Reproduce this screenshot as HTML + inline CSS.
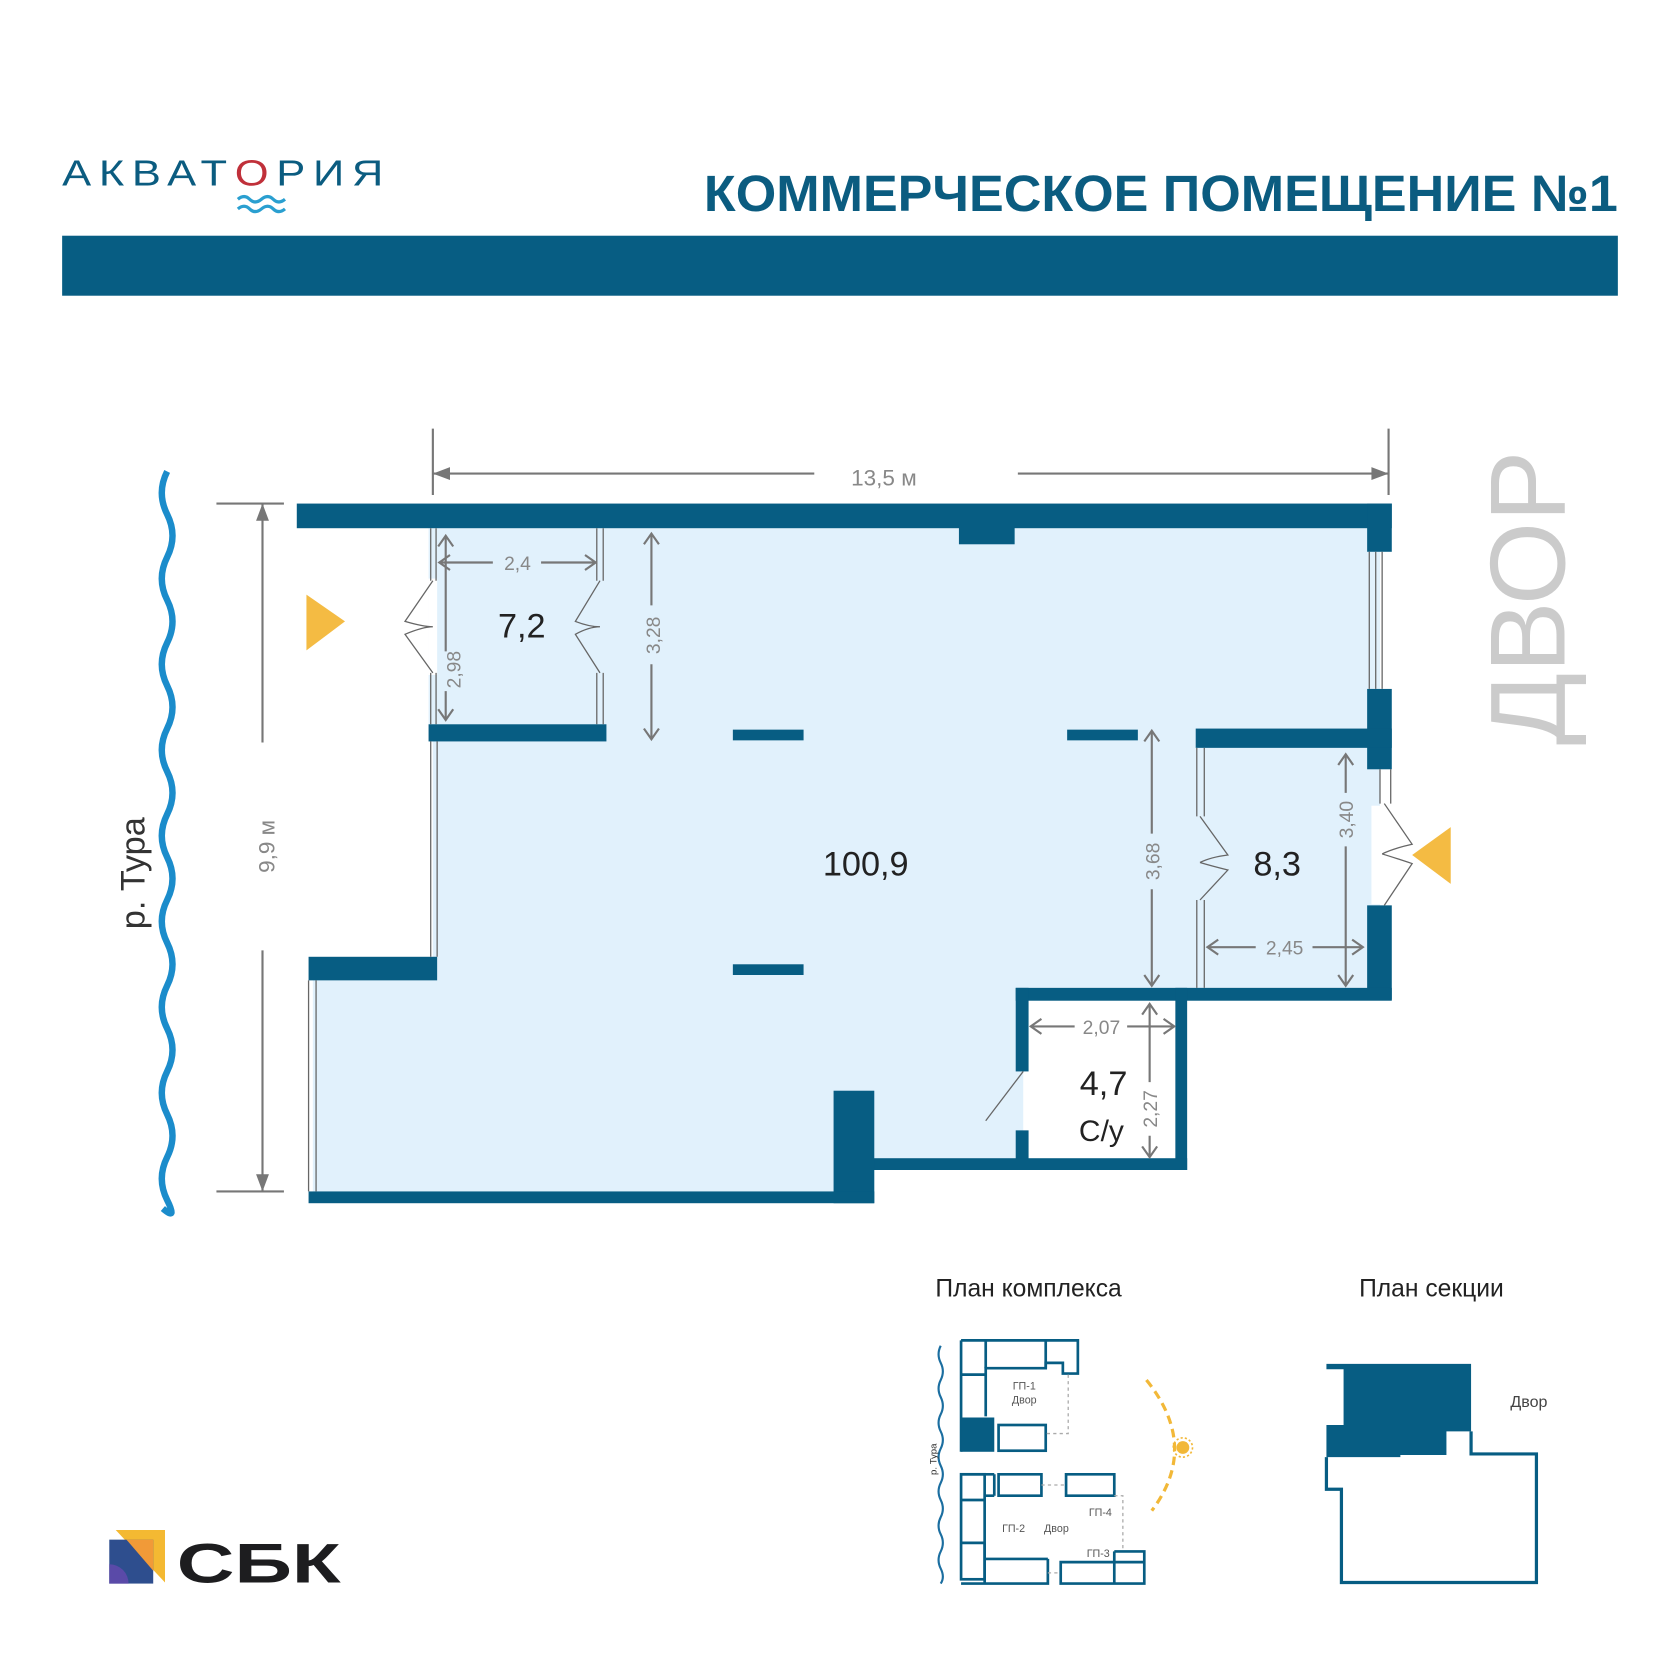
<!DOCTYPE html>
<html><head><meta charset="utf-8"><style>
html,body{margin:0;padding:0;background:#fff;}
svg{display:block;}
text{font-family:"Liberation Sans","DejaVu Sans",sans-serif;}
</style></head><body>
<svg width="1680" height="1680" viewBox="0 0 1568 1568" xmlns="http://www.w3.org/2000/svg">
<rect width="1568" height="1568" fill="#fff"/>
<!-- header -->
<text x="58" y="173" font-size="34" fill="#0b5c80" textLength="307" lengthAdjust="spacingAndGlyphs" letter-spacing="6">АКВАТ<tspan fill="#c0303a">О</tspan>РИЯ</text>
<path d="M222 186 q6 -5 11 0 t11 0 t11 0 t11 0 M222 195 q6 -5 11 0 t11 0 t11 0 t11 0" fill="none" stroke="#2a9fd0" stroke-width="3"/>
<text x="657" y="197" font-size="48" font-weight="bold" fill="#0b5c80" textLength="853" lengthAdjust="spacingAndGlyphs">КОММЕРЧЕСКОЕ ПОМЕЩЕНИЕ  №1</text>
<rect x="58" y="220" width="1452" height="56" fill="#075d83"/>

<!-- river -->
<path d="M156 440 q-10 20 0 40 t0 40 t0 40 t0 40 t0 40 t0 40 t0 40 t0 40 t0 40 t0 40 t0 40 t0 40 t0 40 t0 40 t0 40 t0 40 t0 40 t-4 8" fill="none" stroke="#1b8ccb" stroke-width="6"/>
<text transform="translate(135,815) rotate(-90)" font-size="32" fill="#333" text-anchor="middle">р. Тура</text>

<!-- floor fill -->
<polygon points="400,493 1288,493 1288,922 955,922 955,1088 816,1088 816,1117 292,1117 292,905 404,905 404,690 400,690" fill="#e1f1fc"/>
<rect x="400" y="540" width="8" height="90" fill="#fff"/>
<rect x="1280" y="752" width="12" height="92" fill="#fff"/>

<g fill="#075d83">
<rect x="277" y="470" width="1022" height="23"/>
<rect x="895" y="490" width="52" height="18"/>
<rect x="1276" y="470" width="23" height="45"/>
<rect x="1276" y="643" width="23" height="75"/>
<rect x="1116" y="680" width="183" height="18"/>
<rect x="1276" y="845" width="23" height="88"/>
<rect x="948" y="922" width="351" height="12"/>
<rect x="948" y="922" width="12" height="78"/>
<rect x="948" y="1055" width="12" height="37"/>
<rect x="1097" y="922" width="11" height="170"/>
<rect x="800" y="1081" width="308" height="11"/>
<rect x="778" y="1018" width="38" height="105"/>
<rect x="288" y="1112" width="528" height="11"/>
<rect x="288" y="893" width="120" height="22"/>
<rect x="400" y="676" width="166" height="16"/>
<rect x="684" y="681" width="66" height="10"/>
<rect x="996" y="681" width="66" height="10"/>
<rect x="684" y="900" width="66" height="10"/>
</g>

<!-- thin window/partition lines -->
<g stroke="#666" stroke-width="1.2" fill="none">
<path d="M402 493 V542 M407 493 V542 M402 628 V676 M407 628 V676"/>
<path d="M557 493 V542 M563 493 V542 M557 628 V676 M563 628 V676"/>
<path d="M402 692 V893 M408 692 V893"/>
<path d="M288 915 V1112 M295 915 V1112"/>
<path d="M1278 515 V643 M1290 515 V643 M1284 515 V643"/>
<path d="M1288 718 V750 M1298 718 V750"/>
<path d="M1117 698 V762 M1124 698 V762 M1117 840 V922 M1124 840 V922"/>
<path d="M404 542 L378 580 Q395 585 404 585 M404 628 L378 592 Q395 585 404 585"/>
<path d="M560 542 L537 580 Q550 585 560 585 M560 628 L537 592 Q550 585 560 585"/>
<path d="M1120 762 L1146 798 Q1130 800 1120 805 M1120 840 L1146 812 Q1130 808 1120 805"/>
<path d="M1292 750 L1318 788 Q1300 792 1290 797 M1292 845 L1318 806 Q1300 800 1290 797"/>
<path d="M955 1000 L920 1046"/>
</g>

<!-- entrances -->
<polygon points="286,555 322,580 286,607" fill="#f4bb43"/>
<polygon points="1318,798 1354,772 1354,825" fill="#f4bb43"/>

<!-- dimensions -->
<g stroke="#777" stroke-width="2" fill="none">
<path d="M404 400 V462 M1296 400 V462"/>
<path d="M404 442 H760 M950 442 H1296"/>
<path d="M202 470 H265 M202 1112 H265"/>
<path d="M245 470 V693 M245 887 V1112"/>
<path d="M410 525 H460 M505 525 H556 M416 500 V608 M416 645 V672 M608 498 V565 M608 620 V690"/>
<path d="M1075 682 V778 M1075 830 V920 M1256 704 V740 M1256 790 V920"/>
<path d="M1127 884 H1172 M1225 884 H1272"/>
<path d="M962 958 H1003 M1052 958 H1096 M1073 937 V1010 M1073 1060 V1080"/>
</g>
<g fill="#777">
<polygon points="404,442 420,436 420,448"/><polygon points="1296,442 1280,436 1280,448"/>
<polygon points="245,470 239,486 251,486"/><polygon points="245,1112 239,1096 251,1096"/>
</g>
<g stroke="#777" stroke-width="2" fill="none">
<path d="M420 518 L410 525 L420 532 M546 518 L556 525 L546 532"/>
<path d="M409 510 L416 500 L423 510 M409 662 L416 672 L423 662"/>
<path d="M601 508 L608 498 L615 508 M601 680 L608 690 L615 680"/>
<path d="M1068 692 L1075 682 L1082 692 M1068 910 L1075 920 L1082 910"/>
<path d="M1249 714 L1256 704 L1263 714 M1249 910 L1256 920 L1263 910"/>
<path d="M1137 877 L1127 884 L1137 891 M1262 877 L1272 884 L1262 891"/>
<path d="M972 951 L962 958 L972 965 M1086 951 L1096 958 L1086 965"/>
<path d="M1066 947 L1073 937 L1080 947 M1066 1070 L1073 1080 L1080 1070"/>
</g>
<g fill="#888" font-size="21">
<text x="825" y="453" text-anchor="middle">13,5 м</text>
<text transform="translate(256,790) rotate(-90)" text-anchor="middle">9,9 м</text>
<text x="483" y="532" text-anchor="middle" font-size="18">2,4</text>
<text transform="translate(430,625) rotate(-90)" text-anchor="middle" font-size="18">2,98</text>
<text transform="translate(616,593) rotate(-90)" text-anchor="middle" font-size="18">3,28</text>
<text transform="translate(1082,804) rotate(-90)" text-anchor="middle" font-size="18">3,68</text>
<text transform="translate(1263,765) rotate(-90)" text-anchor="middle" font-size="18">3,40</text>
<text x="1199" y="891" text-anchor="middle" font-size="18">2,45</text>
<text x="1028" y="965" text-anchor="middle" font-size="18">2,07</text>
<text transform="translate(1080,1035) rotate(-90)" text-anchor="middle" font-size="18">2,27</text>
</g>
<g fill="#222" font-size="32" text-anchor="middle">
<text x="487" y="595">7,2</text>
<text x="808" y="817">100,9</text>
<text x="1192" y="817">8,3</text>
<text x="1030" y="1022">4,7</text>
<text x="1028" y="1065" font-size="28">С/у</text>
</g>
<text transform="translate(1460,558) rotate(-90)" text-anchor="middle" font-size="100" fill="#cbcbcb" textLength="275" lengthAdjust="spacingAndGlyphs">ДВОР</text>

<!-- small plans -->
<text x="960" y="1210" text-anchor="middle" font-size="23" fill="#222">План комплекса</text>
<text x="1336" y="1210" text-anchor="middle" font-size="23" fill="#222">План секции</text>
<path d="M878 1256 q-4 8 0 16 t0 16 t0 16 t0 16 t0 16 t0 16 t0 16 t0 16 t0 16 t0 16 t0 16 t0 16 t0 16 t0 14" fill="none" stroke="#1b6ea0" stroke-width="2"/>
<text transform="translate(874,1362) rotate(-90)" font-size="9" fill="#333" text-anchor="middle">р. Тура</text>
<g fill="none" stroke="#075d83" stroke-width="2.5">
<path d="M897 1251 H1006 V1282 H992 V1272 H976 V1277 H920 V1322"/>
<path d="M897 1251 V1355 M897 1283 H920 M920 1251 V1277 M976 1251 V1277"/>
<rect x="932" y="1330" width="44" height="24"/>
<rect x="897" y="1376" width="22" height="98"/>
<path d="M897 1376 H928 M919 1396 H928 M928 1376 V1396 M897 1400 H919 M897 1440 H919 M919 1440 V1455 H978 M919 1455 V1478 M897 1478 H978 V1455 M932 1376 H972 V1396 H932 Z M995 1376 H1040 V1396 H995 Z M990 1458 H1068 V1478 H990 Z M1040 1448 H1068 V1458 M1040 1448 V1478"/>
</g>
<rect x="897" y="1323" width="31" height="32" fill="#075d83"/>
<g stroke="#aaa" stroke-width="1.2" stroke-dasharray="3,3" fill="none">
<path d="M997 1283 V1338 H976 M1040 1396 H1048 V1448 M978 1468 H990 M972 1386 H995"/>
</g>
<path d="M1070 1288 Q1120 1350 1075 1410" fill="none" stroke="#f2b838" stroke-width="3" stroke-dasharray="8,5"/>
<circle cx="1104" cy="1351" r="6" fill="#f2b838"/>
<circle cx="1104" cy="1351" r="9" fill="none" stroke="#f2b838" stroke-width="1.5" stroke-dasharray="2,2"/>
<g font-size="10" fill="#555" text-anchor="middle">
<text x="956" y="1297">ГП-1</text><text x="956" y="1310">Двор</text>
<text x="946" y="1430">ГП-2</text><text x="986" y="1430">Двор</text>
<text x="1027" y="1415">ГП-4</text><text x="1025" y="1453">ГП-3</text>
</g>
<polygon points="1238,1273 1373,1273 1373,1336 1350,1336 1350,1358 1307,1358 1307,1360 1238,1360 1238,1330 1254,1330 1254,1278 1238,1278" fill="#075d83"/>
<path d="M1238 1360 V1390 H1252 V1477 H1434 V1357 H1373 V1336" fill="none" stroke="#075d83" stroke-width="3"/>
<text x="1427" y="1313" text-anchor="middle" font-size="15" fill="#444">Двор</text>

<!-- SBK logo -->
<polygon points="108,1428 154,1428 154,1477" fill="#f4b932"/>
<rect x="102" y="1437" width="41" height="41" fill="#2e4e8e"/>
<path d="M102 1460 A18 18 0 0 1 120 1478 H102 Z" fill="#5a4aa8"/>
<polygon points="118,1437 143,1437 143,1466" fill="#f19a38"/>
<text x="165" y="1477" font-size="52" font-weight="bold" fill="#1d1d1f" textLength="153" lengthAdjust="spacingAndGlyphs">СБК</text>
</svg>
</body></html>
